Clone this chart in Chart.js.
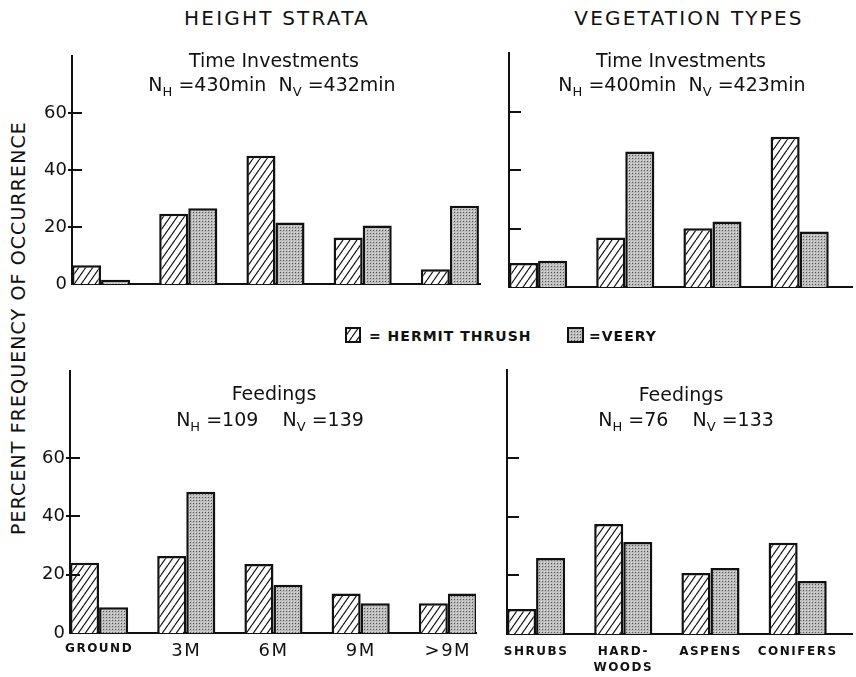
<!DOCTYPE html>
<html>
<head>
<meta charset="utf-8">
<script src="https://cdn.jsdelivr.net/npm/chart.js@4.4.0/dist/chart.umd.min.js"></script>
<style>
  body { margin: 0; background: #fff; width: 856px; height: 677px; position: relative; overflow: hidden; font-family: "DejaVu Sans", sans-serif; color: #111; }
  .box { position: absolute; }
  .t { position: absolute; white-space: nowrap; transform: translate(-50%, -50%); line-height: 1; }
  .head { font-size: 20px; letter-spacing: 2.2px; }
  .sub { font-size: 19px; }
  .sub sub { font-size: 13px; vertical-align: -5px; }
  .leg { position: absolute; font-size: 14px; font-weight: bold; letter-spacing: 1px; line-height: 1; }
  .sw { position: absolute; }
</style>
</head>
<body>

<div class="t head" style="left:277px; top:18px;">HEIGHT STRATA</div>
<div class="t head" style="left:689px; top:18px;">VEGETATION TYPES</div>

<div class="t" style="left:18px; top:328px; transform: translate(-50%, -50%) rotate(-90deg); font-size:19px; letter-spacing:1.1px;">PERCENT FREQUENCY OF OCCURRENCE</div>

<div class="box" style="left:0; top:40px;"><canvas id="tl" width="500" height="260"></canvas></div>
<div class="box" style="left:430px; top:40px;"><canvas id="tr" width="426" height="260"></canvas></div>
<div class="box" style="left:0; top:355px;"><canvas id="bl" width="500" height="322"></canvas></div>
<div class="box" style="left:430px; top:355px;"><canvas id="br" width="426" height="322"></canvas></div>

<div class="t sub" style="left:274px; top:60px;">Time Investments</div>
<div class="t sub" style="left:272px; top:86px;">N<sub>H</sub> =430min&nbsp; N<sub>V</sub> =432min</div>
<div class="t sub" style="left:681px; top:60px;">Time Investments</div>
<div class="t sub" style="left:682px; top:86px;">N<sub>H</sub> =400min&nbsp; N<sub>V</sub> =423min</div>
<div class="t sub" style="left:274px; top:393px;">Feedings</div>
<div class="t sub" style="left:270px; top:421px;">N<sub>H</sub> =109&nbsp;&nbsp;&nbsp; N<sub>V</sub> =139</div>
<div class="t sub" style="left:681px; top:394px;">Feedings</div>
<div class="t sub" style="left:686px; top:421px;">N<sub>H</sub> =76&nbsp;&nbsp;&nbsp; N<sub>V</sub> =133</div>

<canvas class="sw" id="swH" width="16" height="16" style="left:345px; top:327px;"></canvas>
<div class="leg" style="left:369px; top:329px;">=&nbsp;HERMIT THRUSH</div>
<canvas class="sw" id="swV" width="17" height="16" style="left:567px; top:327px;"></canvas>
<div class="leg" style="left:589px; top:329px;">=VEERY</div>

<script>
// categories
const heightCats = ["GROUND", "3M", "6M", "9M", ">9M"];
const vegCats = ["SHRUBS", ["HARD-", "WOODS"], "ASPENS", "CONIFERS"];

// percent frequency, time investments
const timeHeightHermit = [6.6, 24.7, 45, 16.4, 5.2];
const timeHeightVeery = [1.6, 26.6, 21.6, 20.6, 27.5];
const timeVegHermit = [8.2, 16.9, 20.1, 51.4];
const timeVegVeery = [9, 46.3, 22.4, 19];

// percent frequency, feedings
const feedHeightHermit = [24.1, 26.4, 23.7, 13.6, 10.2];
const feedHeightVeery = [8.8, 48.5, 16.6, 10.2, 13.6];
const feedVegHermit = [8.5, 37.5, 20.8, 31.1];
const feedVegVeery = [25.9, 31.4, 22.5, 18.1];

// y ticks
const yTicks = [0, 20, 40, 60];

// patterns
function hatchPattern() {
  const c = document.createElement("canvas");
  c.width = 7; c.height = 10;
  const g = c.getContext("2d");
  g.fillStyle = "#fff";
  g.fillRect(0, 0, 7, 10);
  g.strokeStyle = "#111";
  g.lineWidth = 1.2;
  [-7, 0, 7].forEach(dx => {
    g.beginPath();
    g.moveTo(dx, 10);
    g.lineTo(dx + 7, 0);
    g.stroke();
  });
  return g.createPattern(c, "repeat");
}

function stipplePattern() {
  // grey with a dot grid
  const c = document.createElement("canvas");
  c.width = 3; c.height = 3;
  const g = c.getContext("2d");
  g.fillStyle = "#bcbcbc";
  g.fillRect(0, 0, 3, 3);
  g.fillStyle = "#555";
  g.fillRect(1, 1, 1, 1);
  g.fillStyle = "#dedede";
  g.fillRect(0, 0, 1, 1);
  return g.createPattern(c, "repeat");
}

const hatch = hatchPattern();
const stipple = stipplePattern();

// legend swatches
function swatch(id, pat) {
  const c = document.getElementById(id);
  const g = c.getContext("2d");
  g.fillStyle = pat;
  g.fillRect(0, 0, c.width, c.height);
  g.strokeStyle = "#111";
  g.lineWidth = 2;
  g.strokeRect(1, 1, c.width - 2, c.height - 2);
}
swatch("swH", hatch);
swatch("swV", stipple);

// inner tick marks on the y axis
const tickMarks = {
  id: "tickMarks",
  afterDraw(chart, args, o) {
    const y = chart.scales.y, a = chart.chartArea, g = chart.ctx;
    g.save();
    g.strokeStyle = "#111";
    g.lineWidth = 2;
    yTicks.slice(1).forEach(v => {
      const p = Math.round(y.getPixelForValue(v));
      g.beginPath();
      g.moveTo(a.left - o.out, p);
      g.lineTo(a.left + o.inn, p);
      g.stroke();
    });
    g.restore();
  }
};

// wider letters for the category labels only (drawn after the bars)
const labelSpacing = {
  id: "labelSpacing",
  afterDatasetsDraw(chart) { chart.ctx.letterSpacing = "1.5px"; },
  afterDraw(chart) { chart.ctx.letterSpacing = "0px"; },
};

// spacing between groups in px
const groupPx = 87.2;

function makePanel(id, cats, hermit, veery, p) {
  const width = p.w - p.yW - p.right;
  new Chart(document.getElementById(id), {
    type: "bar",
    data: {
      datasets: [
        {
          label: "HERMIT THRUSH",
          data: hermit.map((v, i) => ({ x: i, y: v })),
          backgroundColor: hatch,
          borderColor: "#111",
          borderWidth: 2.5,
        },
        {
          label: "VEERY",
          data: veery.map((v, i) => ({ x: i, y: v })),
          backgroundColor: stipple,
          borderColor: "#111",
          borderWidth: 2.5,
        },
      ],
    },
    options: {
      responsive: false,
      animation: false,
      devicePixelRatio: 1,
      barPercentage: 1,
      categoryPercentage: 2 / 3,
      layout: { padding: { top: p.top, right: p.right, left: 0, bottom: 0 } },
      plugins: {
        legend: { display: false },
        tooltip: { enabled: false },
        tickMarks: { out: p.out, inn: p.inn },
      },
      scales: {
        x: {
          type: "linear",
          offset: false,
          min: -1 / 3,
          max: -1 / 3 + width / groupPx,
          grid: { display: false, drawTicks: false },
          border: { display: true, color: "#111", width: 2 },
          afterBuildTicks: s => { s.ticks = cats.map((c, i) => ({ value: i })); },
          afterFit: s => { s.height = p.xH; },
          ticks: {
            display: p.showX,
            z: 1,
            autoSkip: false,
            maxRotation: 0,
            padding: p.xPad,
            color: "#111",
            callback: (v, i) => cats[i],
            font: c => {
              const lab = cats[c.index];
              if (lab && (Array.isArray(lab) || lab.length > 3)) {
                return { family: "DejaVu Sans", size: 12, weight: "bold", lineHeight: 1.3 };
              }
              return { family: "DejaVu Sans", size: 18, lineHeight: 1.2 };
            },
          },
        },
        y: {
          min: 0,
          max: p.yMax,
          grid: { display: false, drawTicks: false },
          border: { display: true, color: "#111", width: 2 },
          afterBuildTicks: s => { s.ticks = yTicks.map(v => ({ value: v })); },
          afterFit: s => { s.width = p.yW; },
          ticks: {
            display: p.showY,
            padding: 5,
            color: "#111",
            font: { family: "DejaVu Sans", size: 18 },
          },
        },
      },
    },
    plugins: [tickMarks, labelSpacing],
  });
}

makePanel("tl", heightCats, timeHeightHermit, timeHeightVeery,
  { w: 500, yW: 72, right: 20, top: 13, xH: 13, yMax: 80, showX: false, showY: true, xPad: 0, out: 4, inn: 10 });
makePanel("tr", vegCats, timeVegHermit, timeVegVeery,
  { w: 426, yW: 79, right: 4, top: 13, xH: 13, yMax: 80, showX: false, showY: false, xPad: 0, out: 0, inn: 12 });
makePanel("bl", heightCats, feedHeightHermit, feedHeightVeery,
  { w: 500, yW: 70, right: 24, top: 14, xH: 44, yMax: 90, showX: true, showY: true, xPad: 8, out: 4, inn: 10 });
makePanel("br", vegCats, feedVegHermit, feedVegVeery,
  { w: 426, yW: 77, right: 4, top: 15, xH: 43, yMax: 90, showX: true, showY: false, xPad: 10, out: 0, inn: 12 });
</script>
</body>
</html>
